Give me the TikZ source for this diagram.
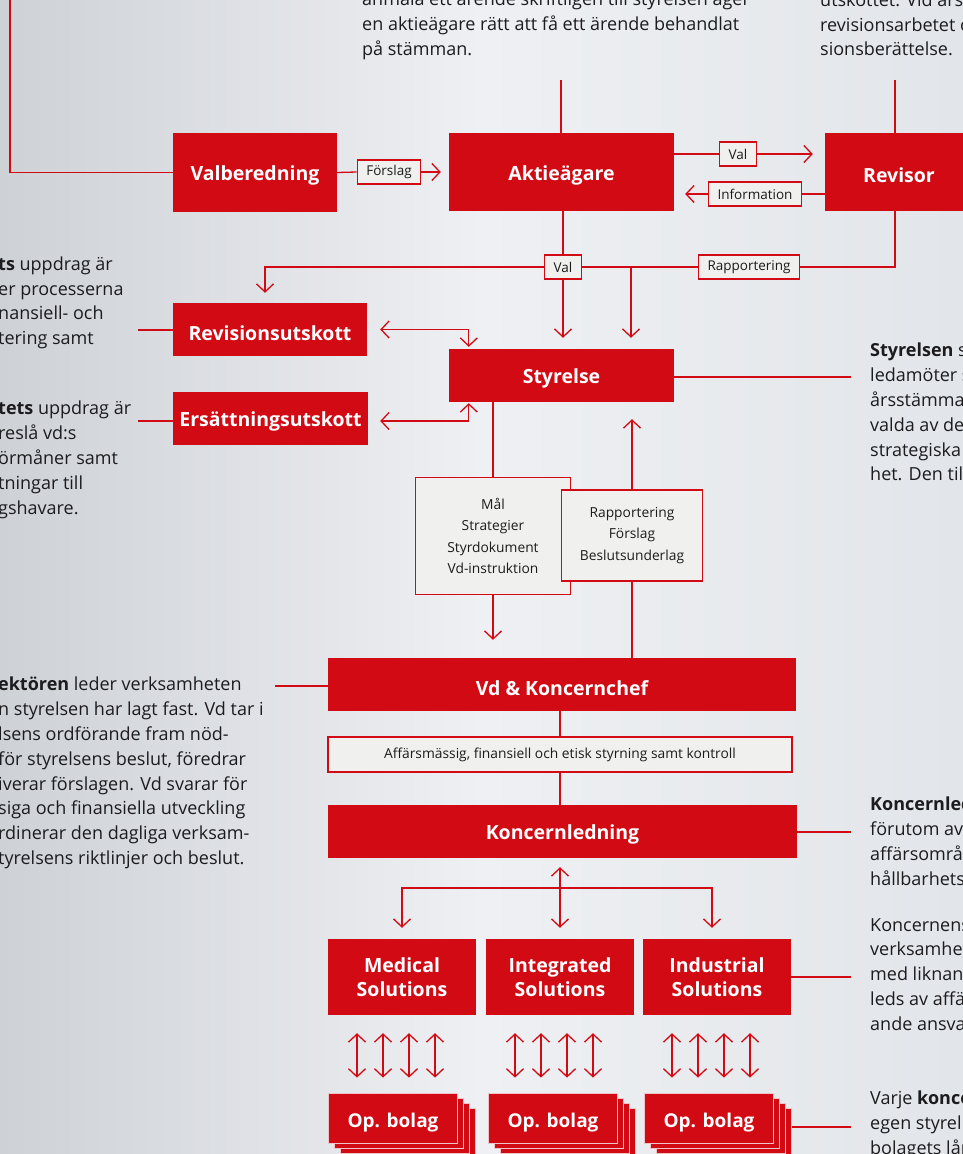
\documentclass[tikz,border=0pt]{standalone}
\usepackage{fontspec}
\setmainfont{Open Sans}
\usepackage{xcolor}
\definecolor{hexred}{RGB}{210,10,20}
\definecolor{hexpaper}{RGB}{240,240,238}
\definecolor{hexedge}{RGB}{238,196,198}
\definecolor{hextext}{RGB}{28,28,30}
\definecolor{bgleft}{RGB}{206,209,214}
\definecolor{bgmid}{RGB}{238,240,243}
\definecolor{bgright}{RGB}{226,229,233}
\usetikzlibrary{arrows.meta,positioning,calc}
\tikzset{
  orgbox/.style={fill=hexred, text=white, font=\fontsize{19.5}{24}\selectfont\bfseries,
                 inner sep=0pt, align=center, execute at begin node={\rule{0pt}{21.5pt}}},
  opbox/.style={fill=hexred, draw=hexedge, line width=0.8pt, text=white,
                font=\fontsize{19}{24}\selectfont\bfseries, inner sep=0pt,
                minimum width=129pt, minimum height=50pt},
  tag/.style={draw=hexred, fill=hexpaper, line width=1.2pt, text=hextext,
              font=\fontsize{13.5}{15}\selectfont, inner xsep=9pt, inner ysep=0pt,
              minimum height=24pt},
  docbox/.style={draw=hexred, fill=hexpaper, line width=1.2pt, text=hextext,
                 font=\fontsize{13.8}{21.3}\selectfont, inner sep=0pt, align=center},
  note/.style={anchor=north west, inner sep=0pt, align=left, text=hextext,
               font=\fontsize{18}{24.8}\selectfont},
  link/.style={draw=hexred, line width=1.3pt},
  arr/.style={link, -{Straight Barb[length=8pt,width=17pt]}},
  dbl/.style={link, {Straight Barb[length=8pt,width=17pt]}-{Straight Barb[length=8pt,width=17pt]}},
}
\begin{document}
\begin{tikzpicture}[x=1pt,y=-1pt]

% background
\shade[left color=bgleft, right color=bgright, middle color=bgmid] (0,0) rectangle (963,1154);
\useasboundingbox (0,0) rectangle (963,1154);

% notes (cut by the page)
\node[note] (ntop) at (362,-8.5) {anmäla ett ärende skriftligen till styrelsen äger\\en aktieägare rätt att få ett ärende behandlat\\på stämman.};
\node[note] (nrev) at (820,-8.5) {utskottet. Vid års\\revisionsarbetet o\\sionsberättelse.};
\node[note] (nrevu) at (-2,256.5) {\textbf{ts} uppdrag är\\er processerna\\nansiell- och\\tering samt};
\node[note] (ners) at (-2,401) {\textbf{tets} uppdrag är\\reslå vd:s\\örmåner samt\\tningar till\\gshavare.};
\node[note] (nvd) at (-2,677) {\textbf{ektören} leder verksamheten\\n styrelsen har lagt fast. Vd tar i\\lsens ordförande fram nöd-\\för styrelsens beslut, föredrar\\iverar förslagen. Vd svarar för\\siga och finansiella utveckling\\rdinerar den dagliga verksam-\\tyrelsens riktlinjer och beslut.};
\node[note] (nstyr) at (870,343) {\textbf{Styrelsen} sk\\ledamöter s\\årsstämma\\valda av de\\strategiska\\het. Den tills};
\node[note] (nkl) at (870,797) {\textbf{Koncernled}\\förutom av v\\affärsområd\\hållbarhets};
\node[note] (nind) at (870,918) {Koncernens\\verksamhet\\med liknand\\leds av affä\\ande ansva};
\node[note] (nop) at (870,1091) {Varje \textbf{konce}\\egen styrel\\bolagets lån};

% owners and auditor
\node[orgbox, minimum width=164pt, minimum height=79pt] (valb) at (255,172.5) {Valberedning};
\node[orgbox, minimum width=225pt, minimum height=78pt] (akt) at (561.5,172) {Aktieägare};
\node[orgbox, minimum width=148pt, minimum height=78pt] (rev) at (899,172) {Revisor};

\node[tag] (forsl) at (389,172) {Förslag};
\node[tag] (valt) at (738,154) {Val};
\node[tag] (info) at (755,194) {Information};

\coordinate (nvtop) at (10,0);
\coordinate (aktop) at (561,80);
\coordinate (revtop) at (895,80);
\draw[link] (nvtop) |- (valb.west);
\draw[link] (aktop) -- (aktop |- akt.north);
\draw[link] (revtop) -- (revtop |- rev.north);

\draw[link] (valb.east) -- (forsl.west);
\draw[arr, shorten >=8pt] (forsl.east) -- (akt.west);
\draw[link] (akt.east |- valt) -- (valt.west);
\draw[arr, shorten >=12pt] (valt.east) -- (valt.east -| rev.west);
\draw[link] (rev.west |- info) -- (info.east);
\draw[arr, shorten >=11pt] (info.west) -- (info.west -| akt.east);

% board and committees
\node[orgbox, minimum width=225pt, minimum height=53pt] (styr) at (561.5,375.5) {Styrelse};
\node[orgbox, minimum width=194pt, minimum height=53pt] (revu) at (270,329.5) {Revisionsutskott};
\node[orgbox, minimum width=195pt, minimum height=53pt] (ers) at (270.5,418.5) {Ersättningsutskott};

\node[tag] (valm) at (563,267) {Val};
\node[tag] (rapm) at (749,267) {Rapportering};
\coordinate (split) at (631,267);

\draw[link] (akt.south -| valm) -- (valm.north);
\draw[arr, shorten >=11pt] (valm.south) -- (valm.south |- styr.north);
\draw[arr, shorten >=10pt] (valm.west) -| ([xshift=-5pt]revu.north);
\draw[link] (valm.east) -- (rapm.west);
\draw[link] (rapm.east) -| (rev.south -| revtop);
\draw[arr, shorten >=11pt] (split) -- (split |- styr.north);

\draw[dbl, shorten <=13pt, shorten >=2pt] (revu.east) -| ([xshift=20pt]styr.north west);
\draw[dbl, shorten <=12pt, shorten >=1pt] (ers.east |- 0,421) -| ([xshift=20pt]styr.south west);

\coordinate (nrevuend) at (138,330);
\coordinate (nersend) at (138,421);
\coordinate (nstyrend) at (851,377);
\draw[link] (nrevuend) -- (nrevuend -| revu.west);
\draw[link] (nersend) -- (nersend -| ers.west);
\draw[link] (styr.east |- nstyrend) -- (nstyrend);

% board <-> ceo
\node[docbox, minimum width=155pt, minimum height=117pt] (mal) at (493,536) {Mål\\Strategier\\Styrdokument\\Vd-instruktion};
\node[docbox, minimum width=141pt, minimum height=91pt] (rap) at (632,535.5) {Rapportering\\Förslag\\Beslutsunderlag};
\node[orgbox, minimum width=468pt, minimum height=53pt] (vd) at (562,684.5) {Vd \& Koncernchef};

\draw[link] (mal.north |- styr.south) -- (mal.north);
\draw[arr, shorten >=18pt] (mal.south) -- (mal.south |- vd.north);
\draw[link] (vd.north -| rap) -- (rap.south);
\draw[arr, shorten >=17pt] (rap.north) -- (rap.north |- styr.south);

\coordinate (nvdend) at (275,686);
\draw[link] (nvdend) -- (nvdend -| vd.west);

% management
\node[docbox, minimum width=464pt, minimum height=35pt] (aff) at (560,754.5) {Affärsmässig, finansiell och etisk styrning samt kontroll};
\node[orgbox, minimum width=469pt, minimum height=53pt] (kl) at (562.5,831.5) {Koncernledning};
\draw[link] (aff.north |- vd.south) -- (aff.north);
\draw[link] (aff.south) -- (aff.south |- kl.north);

\coordinate (nklend) at (851,832);
\draw[link] (kl.east |- nklend) -- (nklend);

% business areas
\node[orgbox, minimum width=148pt, minimum height=76pt] (med) at (402,977) {Medical\\Solutions};
\node[orgbox, minimum width=148pt, minimum height=76pt] (int) at (560,977) {Integrated\\Solutions};
\node[orgbox, minimum width=148pt, minimum height=76pt] (ind) at (717,977) {Industrial\\Solutions};

\coordinate (hub) at (560,888);
\draw[dbl, shorten <=9pt, shorten >=11pt] (kl.south -| hub) -- (hub |- int.north);
\draw[arr, shorten >=11pt] (hub) -| (med.north);
\draw[arr, shorten >=11pt] (hub) -| ([xshift=-5pt]ind.north);

\coordinate (nindend) at (851,977);
\draw[link] (ind.east) -- (nindend);

% operating companies
\foreach \nm/\cx in {opmed/393, opint/553, opind/709} {
  \foreach \k in {3,2,1}
    \node[opbox] (\nm\k) at ({\cx+6*\k},{1118+5*\k}) {};
  \node[opbox, execute at begin node={\rule{0pt}{23pt}}] (\nm) at (\cx,1118) {Op. bolag};
}

\foreach \dv/\ov in {med/opmed, int/opint, ind/opind}
  \foreach \dx in {-45,-19,7,33}
    \draw[dbl, shorten <=18pt, shorten >=15pt] ([xshift=\dx pt]\dv.south) -- ([xshift=\dx pt]\dv.south |- \ov.north);

\coordinate (nopend) at (851,1127);
\draw[link] (opind3.east |- nopend) -- (nopend);

\end{tikzpicture}
\end{document}
